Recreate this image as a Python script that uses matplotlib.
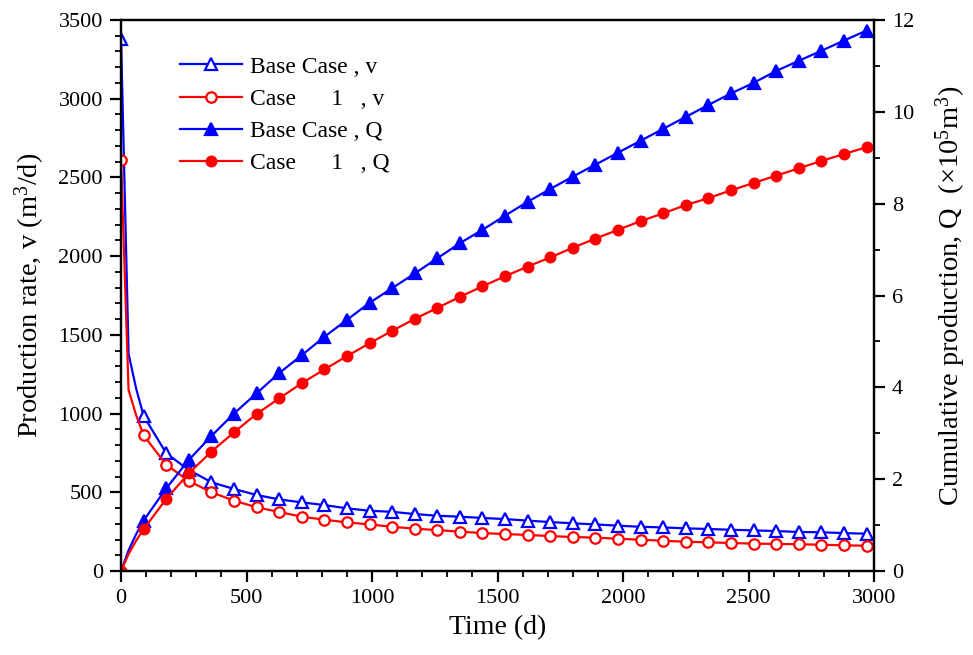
import matplotlib
matplotlib.use("Agg")
import matplotlib.pyplot as plt
from matplotlib.ticker import MultipleLocator

plt.rcParams["font.family"] = ["Liberation Serif", "DejaVu Serif"]
plt.rcParams["mathtext.fontset"] = "custom"
plt.rcParams["mathtext.rm"] = "Liberation Serif"
plt.rcParams["mathtext.it"] = "Liberation Serif:italic"

# Simulation output, sampled every 90 days (plus early steps for the rate decline)
time_d = [0, 30, 60, 90, 180, 270, 360, 450, 540, 630, 720, 810, 900, 990,
          1080, 1170, 1260, 1350, 1440, 1530, 1620, 1710, 1800, 1890, 1980,
          2070, 2160, 2250, 2340, 2430, 2520, 2610, 2700, 2790, 2880, 2970]

base_rate = [3380, 1380, 1160, 985, 748, 642, 564, 521, 483, 455, 436, 419, 398,
             383, 376, 362, 351, 345, 337, 330, 320, 311, 303, 296, 288, 281,
             277, 271, 267, 262, 258, 254, 248, 246, 241, 237]
case1_rate = [2610, 1150, 990, 862, 675, 572, 500, 447, 405, 375, 345, 326, 309,
              296, 281, 269, 260, 250, 241, 235, 229, 222, 216, 212, 205, 199,
              192, 186, 182, 178, 174, 172, 170, 167, 163, 161]

base_cum = [0, 0.45, 0.80, 1.10, 1.80, 2.42, 2.94, 3.43, 3.87, 4.31, 4.70, 5.10,
            5.47, 5.84, 6.16, 6.48, 6.81, 7.14, 7.43, 7.74, 8.04, 8.32, 8.59,
            8.85, 9.11, 9.37, 9.63, 9.89, 10.15, 10.40, 10.63, 10.89, 11.11,
            11.33, 11.55, 11.77]
case1_cum = [0, 0.37, 0.66, 0.91, 1.57, 2.13, 2.60, 3.02, 3.42, 3.76, 4.09, 4.39,
             4.68, 4.96, 5.23, 5.49, 5.73, 5.97, 6.20, 6.42, 6.63, 6.83, 7.04,
             7.24, 7.43, 7.62, 7.79, 7.97, 8.12, 8.29, 8.45, 8.61, 8.77, 8.93,
             9.08, 9.23]

labels = ["Base Case , v", "Case      1   , v", "Base Case , Q", "Case      1   , Q"]

# markers only on the 90-day report steps
marks = [i for i, t in enumerate(time_d) if t % 90 == 0]

BLUE = "#0000ff"
RED = "#ff0000"

fig = plt.figure(figsize=(9.73, 6.55), dpi=100)
ax = fig.add_axes([0.1244, 0.1282, 0.7739, 0.8413])
ax2 = ax.twinx()

common = dict(lw=1.6, markevery=marks, markeredgewidth=1.6)
h1, = ax.plot(time_d, base_rate, color=BLUE, marker="^", ms=9,
              markerfacecolor="white", markeredgecolor=BLUE, label=labels[0], **common)
h2, = ax.plot(time_d, case1_rate, color=RED, marker="o", ms=7.5,
              markerfacecolor="white", markeredgecolor=RED, label=labels[1], **common)
h3, = ax2.plot(time_d, base_cum, color=BLUE, marker="^", ms=9,
               markerfacecolor=BLUE, markeredgecolor=BLUE, label=labels[2], **common)
h4, = ax2.plot(time_d, case1_cum, color=RED, marker="o", ms=7,
               markerfacecolor=RED, markeredgecolor=RED, label=labels[3], **common)

ax.set_xlim(0, 3000)
ax.set_ylim(0, 3500)
ax2.set_ylim(0, 12)

ax.xaxis.set_major_locator(MultipleLocator(500))
ax.xaxis.set_minor_locator(MultipleLocator(100))
ax.yaxis.set_major_locator(MultipleLocator(500))
ax.yaxis.set_minor_locator(MultipleLocator(100))
ax2.yaxis.set_major_locator(MultipleLocator(2))
ax2.yaxis.set_minor_locator(MultipleLocator(1))

for a in (ax, ax2):
    for s in a.spines.values():
        s.set_linewidth(1.6)
    a.tick_params(which="major", direction="out", length=8, width=1.6,
                  labelsize=16, pad=5)
    a.tick_params(which="minor", direction="out", length=4.5, width=1.3)

ax.set_xlabel("Time (d)", fontsize=20, labelpad=5)
ax.set_ylabel("Production rate, v (m$^3$/d)", fontsize=20.5, labelpad=8)
ax2.set_ylabel("Cumulative production, Q  (\u00d710$^5$m$^3$)", fontsize=20.5,
               labelpad=14)

leg = ax.legend(handles=[h1, h2, h3, h4], loc="upper left",
                bbox_to_anchor=(0.06, 0.96), frameon=False, fontsize=17,
                handlelength=2.6, handletextpad=0.35, labelspacing=0.45,
                borderaxespad=0.2)

fig.savefig("out.png", dpi=100)
